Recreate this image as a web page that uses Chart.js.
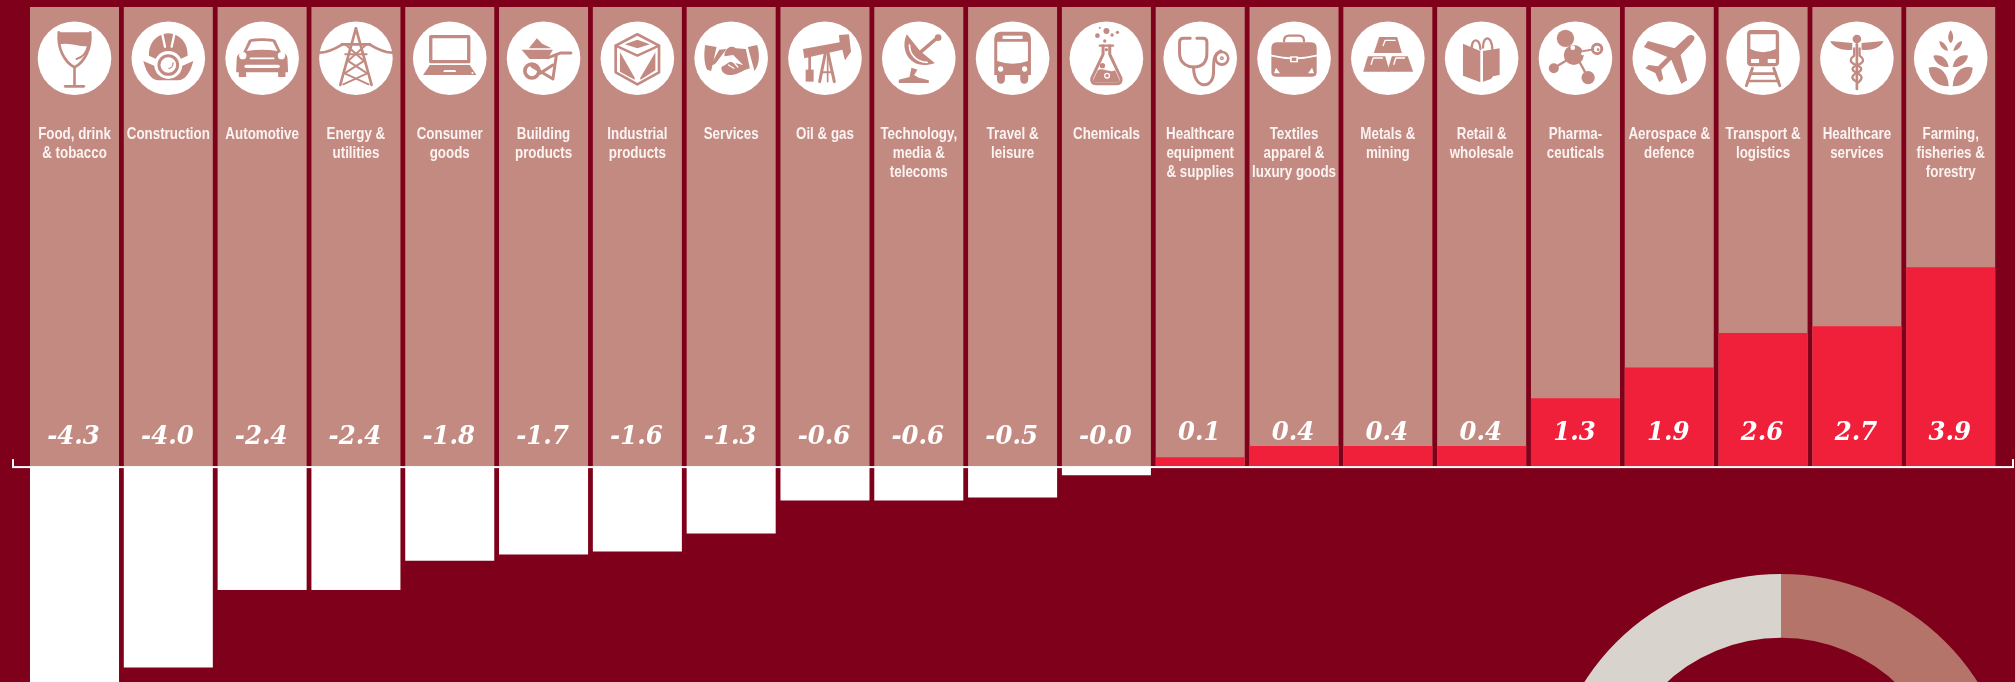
<!DOCTYPE html>
<html>
<head>
<meta charset="utf-8">
<title>Sectors</title>
<script src="https://cdn.jsdelivr.net/npm/chart.js@4"></script>
<style>
  html, body { margin: 0; padding: 0; width: 2015px; height: 682px; overflow: hidden; background: #7e001a; }
  #barChart { position: absolute; left: 0; top: 0; }
  #ringChart { position: absolute; left: 1548px; top: 574px; }
</style>
</head>
<body>
<canvas id="barChart" width="2015" height="682"></canvas>
<canvas id="ringChart" width="466" height="466"></canvas>
<script>
let categories = [
  ['Food, drink', '& tobacco'], ['Construction'], ['Automotive'], ['Energy &', 'utilities'],
  ['Consumer', 'goods'], ['Building', 'products'], ['Industrial', 'products'], ['Services'],
  ['Oil & gas'], ['Technology,', 'media &', 'telecoms'], ['Travel &', 'leisure'], ['Chemicals'],
  ['Healthcare', 'equipment', '& supplies'], ['Textiles', 'apparel &', 'luxury goods'], ['Metals &', 'mining'],
  ['Retail &', 'wholesale'], ['Pharma-', 'ceuticals'], ['Aerospace &', 'defence'], ['Transport &', 'logistics'],
  ['Healthcare', 'services'], ['Farming,', 'fisheries &', 'forestry']
];
let valueLabels = ['-4.3', '-4.0', '-2.4', '-2.4', '-1.8', '-1.7', '-1.6', '-1.3', '-0.6', '-0.6', '-0.5', '-0.0',
  '0.1', '0.4', '0.4', '0.4', '1.3', '1.9', '2.6', '2.7', '3.9'];
// bar lengths as measured in the picture, they run a little past the printed figure on the small ones
let barValues = [-4.3, -3.91, -2.4, -2.4, -1.83, -1.71, -1.65, -1.3, -0.66, -0.66, -0.6, -0.17,
  0.18, 0.4, 0.4, 0.4, 1.33, 1.93, 2.6, 2.73, 3.88];
let panelTop = 8.94;
let axisMin = -4.19;
let ringValues = [50, 50];

const BG = '#7e001a';
const PANEL = '#c38a82';
const RED = '#f01f3a';

function circ(x, y, r) {
  return `M${x - r} ${y}a${r} ${r} 0 1 0 ${2 * r} 0a${r} ${r} 0 1 0 ${-2 * r} 0Z`;
}

// f = pink fill, s = pink stroke, w = white fill, v = white stroke
// units are 1/3 px around the centre of the disc, disc radius is 110
let icons = [
  [ // wine
    ['f', 'M-47-78L47-78L46-38C20-30-10-50-46-42Z'],
    ['s', 'M-47-78C-52-30-30 12 0 27C30 12 52-30 47-78', 8],
    ['s', 'M0 27L0 82', 8], ['s', 'M-28 84L28 84', 8],
    ['s', 'M40-36C36-16 22-2 6 2', 6]
  ],
  [ // helmet
    ['f', 'M-58-8C-60-50-30-74 0-75C30-74 60-50 58-8L30 5C20-5-20-5-30 5Z'],
    ['v', 'M-18-72L-10-35', 7], ['v', 'M18-72L10-35', 7],
    ['f', 'M-75 8L-34 26C-30 50 30 50 34 26L75 8C65 50 45 66 30 66L-30 66C-45 66-65 50-75 8Z'],
    ['w', circ(0, 20, 42)], ['s', circ(0, 20, 28), 9], ['s', 'M14 14C14 24 8 30 2 30', 4]
  ],
  [ // car
    ['f', 'M-78 42L-76-2C-74-14-64-16-56-20L-40-54C-36-62 36-62 40-54L56-20C64-16 74-14 76-2L78 42L70 42L70 56L48 56L48 42L-48 42L-48 56L-70 56L-70 42Z'],
    ['w', 'M-46-22L-32-50Q0-54 32-50L46-22Q0-30-46-22Z'],
    ['w', circ(-58, -8, 11)], ['w', circ(58, -8, 11)],
    ['v', 'M-35 0L35 0', 5], ['v', 'M-48 24L48 24', 10]
  ],
  [ // pylon
    ['s', 'M0-90L-47 80', 8], ['s', 'M0-90L47 80', 8],
    ['s', 'M-42-42L42-42', 8], ['s', 'M-32-12L32-12', 6],
    ['s', 'M-32-42L24 8L-34 45L38 78', 6], ['s', 'M32-42L-24 8L34 45L-38 78', 6],
    ['s', 'M-110-17C-85-17-60-30-40-42', 8], ['s', 'M110-17C85-17 60-30 40-42', 8]
  ],
  [ // laptop
    ['s', 'M-57-65L57-65L57 10L-57 10Z', 10],
    ['f', 'M-60 20L60 20L80 50L-80 50Z'],
    ['w', 'M-16 35L16 35L20 41L-20 41Z'], ['w', circ(68, 44, 3)]
  ],
  [ // wheelbarrow
    ['f', 'M-66-26L28-26L12 2L-42 2Z'], ['f', 'M-44-30L-20-60L-4-44L24-30Z'],
    ['s', 'M14-2L52-16L82-16', 9],
    ['s', circ(-35, 38, 21), 11], ['w', circ(-35, 38, 6)],
    ['s', 'M-35 24L28 62L38-6', 9], ['s', 'M-10 45L28 20', 9]
  ],
  [ // crate
    ['s', 'M0-72L65-38L65 42L0 78L-65 42L-65-38Z', 8],
    ['s', 'M-65-38L0-8L65-38', 7],
    ['f', 'M-38-42L0-56L38-42L0-30Z'],
    ['f', 'M-52-18L-8 58L-8 64L-52 40Z'], ['f', 'M54-18L54 36L10 64L8 60Z']
  ],
  [ // handshake
    ['f', 'M-78-40L-44-34L-60 38L-72 34C-82 15-82-15-78-40Z'],
    ['f', 'M78-40L50-34L70 38C86 18 86-15 78-40Z'],
    ['f', 'M-36-26L-14-28L-44 12C-50 20-56 22-60 18Z'],
    ['f', 'M-22 22C-36 22-30 50-4 50C16 52 30 38 56 30L44-28L14-30C-6-44-22-22-20-6L6-10L36 20L-4 10Z'],
    ['v', 'M-8 20L8 30', 4], ['v', 'M6 10L20 26', 4]
  ],
  [ // pumpjack
    ['f', 'M-66-28L44-48L42-70L72-72L78-20L60 6L52-26L-62 0Z'],
    ['s', 'M4-30L-16 70', 9], ['s', 'M6-30L28 70', 9], ['s', 'M8-30L8 70', 5], ['s', 'M-8 42L22 42', 6],
    ['s', 'M-46-8L-46 38', 8], ['f', 'M-58 34L-34 34L-34 70L-58 70Z']
  ],
  [ // satellite dish
    ['f', 'M-36-72C-60-20-20 40 48 14L4-22Z'],
    ['v', 'M-28-40C-28-10-5 12 25 12', 5],
    ['s', 'M0-14L56-62', 10], ['f', circ(58, -62, 10)],
    ['f', 'M-22 28L-4 34L-14 50L0 58L30 66L30 74L-60 74L-60 64L-28 56Z']
  ],
  [ // bus
    ['f', 'M-55-60Q-55-80-35-80L35-80Q55-80 55-60L55 50L47 50L47 62Q47 76 35 76Q23 76 23 62L23 50L-23 50L-23 62Q-23 76-35 76Q-47 76-47 62L-47 50L-55 50Z'],
    ['w', 'M-46-50L46-50L46 8Q0 24-46 8Z'],
    ['w', 'M-30-68L30-68L30-58L-30-58Z'],
    ['w', circ(-36, 32, 8)], ['w', circ(36, 32, 8)]
  ],
  [ // flask
    ['s', 'M-10-38L-10-12L-44 60Q-46 76-32 76L32 76Q46 76 44 60L10-12L10-38', 9],
    ['s', 'M-20-38L20-38', 7],
    ['f', 'M-26 36C-10 26 10 46 26 36L40 66Q40 72 32 72L-32 72Q-40 72-40 66Z'],
    ['f', circ(0, -82, 9)], ['f', circ(-27, -68, 7)], ['f', circ(33, -78, 5)], ['f', circ(17, -70, 5)],
    ['f', circ(-20, -92, 3)], ['f', circ(-5, -52, 5)], ['f', circ(0, -26, 5)], ['f', circ(-12, 22, 8)],
    ['w', circ(2, 52, 9)], ['f', circ(2, 52, 5)]
  ],
  [ // stethoscope
    ['s', 'M-30-60L-50-60Q-62-60-62-48L-62-16C-62 20-32 26-20 26C8 26 20 10 20-16L20-48Q20-60 8-60L-10-60', 9],
    ['s', 'M-20 26C-20 95 40 95 40 40C40 5 40-12 62-22', 9],
    ['s', circ(65, 0, 19), 8], ['s', circ(65, 0, 4), 4]
  ],
  [ // briefcase
    ['f', 'M-68-30Q-68-48-52-48L52-48Q68-48 68-30L68 42Q68 55 55 55L-55 55Q-68 55-68 42Z'],
    ['s', 'M-30-52Q-30-68-15-68L15-68Q30-68 30-52', 7],
    ['v', 'M-68-8Q0 8 68-8', 5], ['w', 'M-12-6L12-6L12 12L-12 12Z'], ['f', 'M-7-2L7-2L7 8L-7 8Z'],
    ['w', 'M-60 45L-42 45L-54 28Z'], ['w', 'M60 45L42 45L54 28Z']
  ],
  [ // gold bars
    ['f', 'M-26-64L28-64L42-16L-42-16Z'], ['f', 'M-60-6L-8-6L6 40L-74 40Z'], ['f', 'M12-6L60-6L76 40L-2 40Z'],
    ['v', 'M-14-38L-8-54L22-54', 4], ['v', 'M-50 18L-44-1L-16-1', 4], ['v', 'M18 18L24-1L50-1', 4]
  ],
  [ // shopping book
    ['f', 'M-56-44L-4-22L-4 72L-56 52Z'], ['f', 'M4-22L54-30L54 50L34 54L28 62L4 70Z'],
    ['s', 'M-30-30C-30-62-6-62-4-28', 7], ['s', 'M4-32C4-70 30-70 32-28', 7]
  ],
  [ // molecule
    ['f', circ(-30, -60, 26)], ['f', circ(-5, -10, 30)], ['w', circ(-8, -32, 7)], ['w', circ(22, -14, 5)],
    ['s', circ(65, -28, 14), 9], ['f', circ(68, -26, 4)], ['s', 'M25-22L50-26', 6],
    ['f', circ(-65, 30, 15)], ['s', 'M-58 25L-25 5', 7], ['s', 'M14 14L28 40', 7], ['f', circ(38, 58, 20)]
  ],
  [ // plane
    ['f', 'M50-62C58-72 68-72 74-66C78-60 74-52 66-44L34-10L54 66L36 76L6 4L-24 34L-18 62L-30 72L-42 44L-72 30L-62 20L-34 24L-6-4L-76-34L-64-52L16-30Z']
  ],
  [ // train
    ['f', 'M-48-72Q-48-85-35-85L35-85Q48-85 48-72L48 12Q48 24 35 24L-35 24Q-48 24-48 12Z'],
    ['w', 'M-38-72L38-72L38-28Q0-8-38-28Z'],
    ['w', 'M-36 2L-12 2L-12 14L-36 14Z'], ['w', 'M14 2L38 2L38 14L14 14Z'],
    ['s', 'M-32 30L-50 82', 9], ['s', 'M32 30L50 82', 9], ['s', 'M-38 46L38 46', 8], ['s', 'M-46 68L46 68', 8]
  ],
  [ // caduceus
    ['f', 'M-80-52L-14-46L-14-26C-40-22-70-30-80-52Z'], ['f', 'M80-52L14-46L14-26C40-22 70-30 80-52Z'],
    ['f', circ(0, -58, 13)], ['s', 'M0-42L0 92', 8],
    ['s', 'M-8-30L-8-8C-22 2-22 12-6 18C18 26 18 36 0 44C-18 52-18 62 0 70', 7],
    ['s', 'M8-30L8-8C22 2 22 12 6 18C-18 26-18 36 0 44C18 52 18 62 2 74', 7]
  ],
  [ // wheat
    ['f', 'M0-85C10-70 10-55 0-45C-10-55-10-70 0-85Z'],
    ['f', 'M-34-52C-20-50-10-35-8-22C-22-24-34-36-34-52Z'], ['f', 'M34-52C20-50 10-35 8-22C22-24 34-36 34-52Z'],
    ['f', 'M-52-8C-30-14-10 0-6 26C-28 28-48 14-52-8Z'], ['f', 'M52-8C30-14 10 0 6 26C28 28 48 14 52-8Z'],
    ['f', 'M-66 28C-36 20-8 40-6 84C-40 84-64 64-66 28Z'], ['f', 'M66 28C36 20 8 40 6 84C40 84 64 64 66 28Z']
  ]
];

function drawIcon(ctx, ops) {
  ctx.lineCap = 'round';
  ctx.lineJoin = 'round';
  ops.forEach(function(op) {
    let path = new Path2D(op[1]);
    if (op[0] === 'f' || op[0] === 'w') {
      ctx.fillStyle = op[0] === 'f' ? PANEL : '#fff';
      ctx.fill(path, 'nonzero');
    } else {
      ctx.strokeStyle = op[0] === 's' ? PANEL : '#fff';
      ctx.lineWidth = op[2];
      ctx.stroke(path);
    }
  });
}

// no condensed face is installed, so squeeze the normal one
function squeezedText(ctx, text, x, y, squeeze) {
  ctx.save();
  ctx.translate(x, y);
  ctx.scale(squeeze, 1);
  ctx.fillText(text, 0, 0);
  ctx.restore();
}

// discs, sector names, printed figures and the axis line
const overlayPlugin = {
  id: 'overlay',
  afterDatasetsDraw(chart) {
    const ctx = chart.ctx;
    const x = chart.scales.x;
    const y = chart.scales.y;
    const zero = y.getPixelForValue(0);

    ctx.save();
    ctx.fillStyle = '#fff';
    ctx.fillRect(12, zero - 0.5, 2002, 2);
    ctx.fillRect(12, zero - 7.5, 2, 8);
    ctx.fillRect(2012, zero - 7.5, 2, 8);

    categories.forEach(function(lines, i) {
      const cx = x.getPixelForValue(i);

      ctx.save();
      ctx.translate(cx, 58.3);
      ctx.fillStyle = '#fff';
      ctx.beginPath();
      ctx.arc(0, 0, 36.8, 0, Math.PI * 2);
      ctx.fill();
      ctx.scale(1 / 3, 1 / 3);
      drawIcon(ctx, icons[i]);
      ctx.restore();

      ctx.fillStyle = '#fbf3f1';
      ctx.textAlign = 'center';
      ctx.textBaseline = 'alphabetic';
      ctx.font = 'bold 16.5px "Liberation Sans", sans-serif';
      lines.forEach(function(line, n) {
        squeezedText(ctx, line, cx, 139 + n * 19, 0.81);
      });

      ctx.fillStyle = '#fff';
      ctx.font = 'italic bold 26px "DejaVu Serif", serif';
      squeezedText(ctx, valueLabels[i], cx - 1, barValues[i] < 0 ? 444 : 440, 0.94);
    });
    ctx.restore();
  }
};

let barChart = new Chart(document.getElementById('barChart'), {
  type: 'bar',
  data: {
    labels: categories,
    datasets: [{
      label: 'Change',
      data: barValues,
      backgroundColor: barValues.map(v => v < 0 ? '#fff' : RED),
      order: 1,
      grouped: false,
      barPercentage: 1,
      categoryPercentage: 0.949
    }, {
      label: 'Panel',
      data: categories.map(() => panelTop),
      backgroundColor: PANEL,
      order: 2,
      grouped: false,
      barPercentage: 1,
      categoryPercentage: 0.949
    }]
  },
  options: {
    responsive: false,
    animation: false,
    layout: { padding: { left: 27.6, right: 17.4, top: 7, bottom: 0 } },
    plugins: { legend: { display: false }, tooltip: { enabled: false } },
    scales: {
      x: { display: false },
      y: { display: false, min: axisMin, max: panelTop }
    }
  },
  plugins: [overlayPlugin]
});

let ringChart = new Chart(document.getElementById('ringChart'), {
  type: 'doughnut',
  data: {
    datasets: [{
      data: ringValues,
      backgroundColor: ['#b5746a', '#d9d3ce'],
      borderWidth: 0
    }]
  },
  options: {
    responsive: false,
    animation: false,
    cutout: '72.6%',
    plugins: { legend: { display: false }, tooltip: { enabled: false } }
  }
});
</script>
</body>
</html>
